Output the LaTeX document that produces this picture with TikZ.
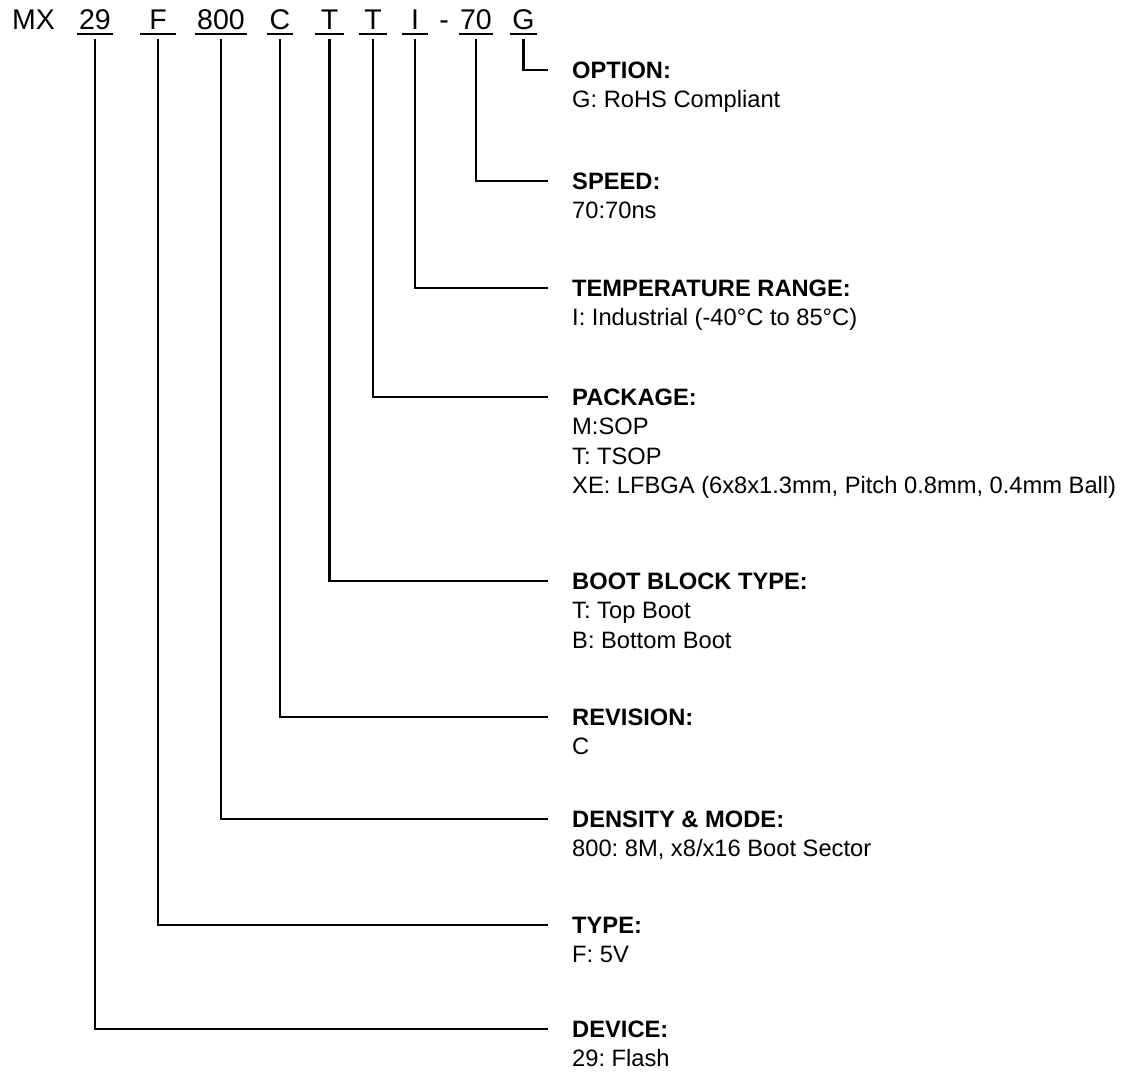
\documentclass[tikz,border=0pt]{standalone}
\usepackage{fontspec}
\setmainfont{Liberation Sans}
\frenchspacing
\begin{document}
\begin{tikzpicture}[x=1pt, y=-1pt, line join=miter, line cap=butt,
	tok/.style={inner sep=0pt, anchor=base, font=\fontsize{28.5}{34}\selectfont},
	ttl/.style={inner sep=0pt, anchor=base west, font=\fontsize{23.7}{29.5}\selectfont\bfseries},
	dsc/.style={inner sep=0pt, anchor=base west, font=\fontsize{23.7}{29.5}\selectfont},
	uline/.style={line width=1.7pt},
	conn/.style={line width=2.3pt}]
	\def\lx{572}   % left edge of the texts
	\def\gap{24pt} % gap between line end and text
	\useasboundingbox (0,0) rectangle (1128,1072);
	% part number
	\node[tok, anchor=base west] (mx) at (12,29) {MX};
	\node[tok] (hyph) at (444,29) {-};
	\foreach \nm/\cx/\w/\t in {tdev/95/36/29, ttyp/158/36/F, tden/221/52/800, trev/280/26/C,
		tboot/329.5/29/T, tpkg/373/28/T, ttemp/415/26/I, tspd/476/34/70, topt/523.5/27/G}{
		\node[tok, minimum width=\w pt] (\nm) at (\cx,29) {\t};
		\draw[uline] ([yshift=-5pt]\nm.base west) -- ([yshift=-5pt]\nm.base east);
	}
	% fields
	\node[ttl] (opt) at (\lx,78) {OPTION:};
	\node[dsc] (opt1) at ([yshift=-29.5pt]opt.base west) {G: RoHS Compliant};
	\node[ttl] (spd) at (\lx,189) {SPEED:};
	\node[dsc] (spd1) at ([yshift=-29.5pt]spd.base west) {70:70ns};
	\node[ttl] (temp) at (\lx,296) {TEMPERATURE RANGE:};
	\node[dsc] (temp1) at ([yshift=-29.5pt]temp.base west) {I: Industrial (-40°C to 85°C)};
	\node[ttl] (pkg) at (\lx,405) {PACKAGE:};
	\node[dsc] (pkg1) at ([yshift=-29.5pt]pkg.base west) {M:SOP};
	\node[dsc] (pkg2) at ([yshift=-29.5pt]pkg1.base west) {T: TSOP};
	\node[dsc] (pkg3) at ([yshift=-29.5pt]pkg2.base west) {XE: LFBGA (6x8x1.3mm, Pitch 0.8mm, 0.4mm Ball)};
	\node[ttl] (boot) at (\lx,589) {BOOT BLOCK TYPE:};
	\node[dsc] (boot1) at ([yshift=-29.5pt]boot.base west) {T: Top Boot};
	\node[dsc] (boot2) at ([yshift=-29.5pt]boot1.base west) {B: Bottom Boot};
	\node[ttl] (rev) at (\lx,725) {REVISION:};
	\node[dsc] (rev1) at ([yshift=-29.5pt]rev.base west) {C};
	\node[ttl] (den) at (\lx,827) {DENSITY \& MODE:};
	\node[dsc] (den1) at ([yshift=-29.5pt]den.base west) {800: 8M, x8/x16 Boot Sector};
	\node[ttl] (typ) at (\lx,933) {TYPE:};
	\node[dsc] (typ1) at ([yshift=-29.5pt]typ.base west) {F: 5V};
	\node[ttl] (dev) at (\lx,1037) {DEVICE:};
	\node[dsc] (dev1) at ([yshift=-29.5pt]dev.base west) {29: Flash};
	% leaders
	\foreach \a/\b in {topt/opt, tspd/spd, ttemp/temp, tpkg/pkg, tboot/boot,
		trev/rev, tden/den, ttyp/typ, tdev/dev}
		\draw[conn] ([yshift=-10pt]\a.base) |- ([xshift=-\gap]\b.west);
\end{tikzpicture}
\end{document}
